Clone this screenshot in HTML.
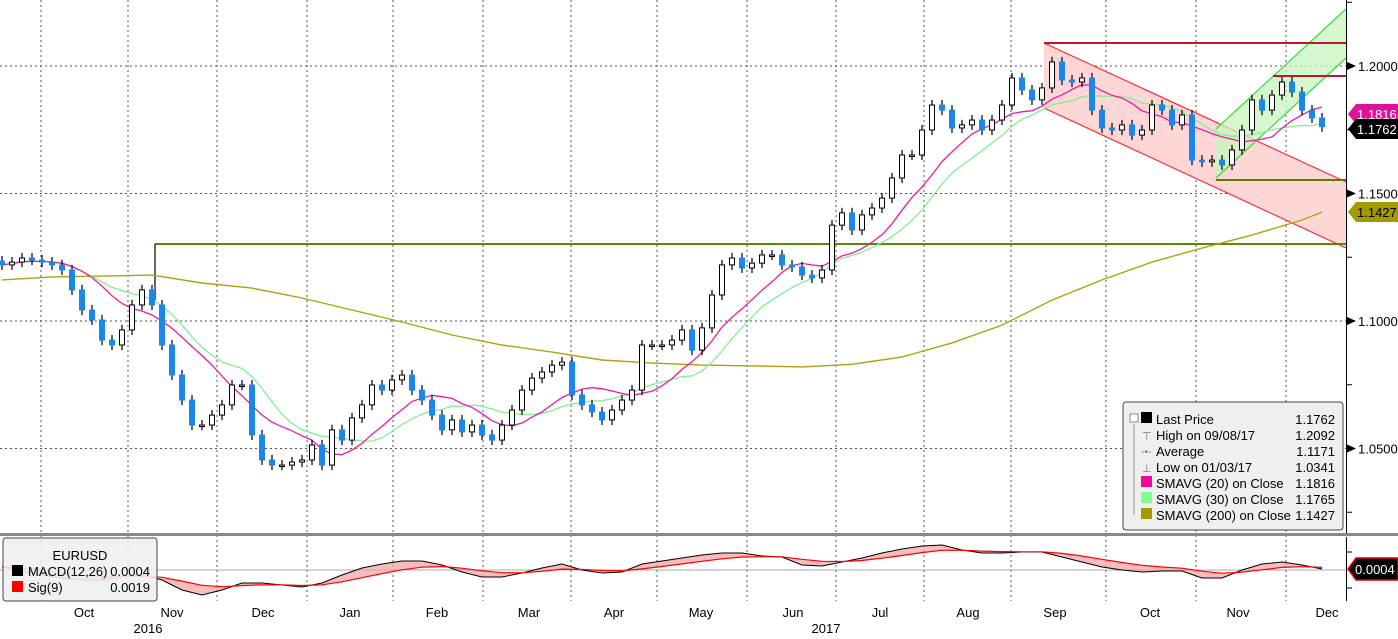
<!DOCTYPE html>
<html><head><meta charset="utf-8"><style>
html,body{margin:0;padding:0;background:#fff;}
svg{display:block;font-family:"Liberation Sans",sans-serif;}
</style></head><body>
<svg id="chart" width="1398" height="639" viewBox="0 0 1398 639" xmlns="http://www.w3.org/2000/svg">
<rect x="0" y="0" width="1398" height="639" fill="#fff"/>
<g id="grid"></g>
<g id="overlays">
  <polygon points="1044,43 1346,182 1346,248 1044,108" fill="#ffd6d6"/>
  <line x1="1044" y1="43" x2="1346" y2="182" stroke="#ff2a2a" stroke-width="1.2"/>
  <line x1="1044" y1="108" x2="1346" y2="248" stroke="#ff2a2a" stroke-width="1.2"/>
  <polygon points="1216,129 1346,9 1346,58 1216,178" fill="#c8f5c0" fill-opacity="0.75"/>
  <line x1="1216" y1="129" x2="1346" y2="9" stroke="#33dd33" stroke-width="1.2"/>
  <line x1="1216" y1="178" x2="1346" y2="58" stroke="#33dd33" stroke-width="1.2"/>
  <line x1="1044" y1="43" x2="1346" y2="43" stroke="#c0162c" stroke-width="2"/>
  <line x1="1273" y1="76" x2="1346" y2="76" stroke="#c0162c" stroke-width="2"/>
  <line x1="1216" y1="180" x2="1346" y2="180" stroke="#5a7a00" stroke-width="2"/>
  <line x1="155" y1="244" x2="1346" y2="244" stroke="#5a8a00" stroke-width="2"/>
  <line x1="155" y1="244" x2="155" y2="300" stroke="#000" stroke-width="1.2"/>
</g>
<g id="mas"></g>
<g id="candles"></g>
<rect x="0" y="533" width="1398" height="3" fill="#888"/>
<g id="macd"></g>
<line x1="1346.5" y1="0" x2="1346.5" y2="533" stroke="#000"/>
<line x1="1346.5" y1="537" x2="1346.5" y2="601" stroke="#000"/>
<g id="axis"></g>
<g>
  <polygon points="1356,104 1398,104 1398,124 1356,124 1348,114" fill="#e0129a"/>
  <text x="1357" y="119" font-size="13" fill="#fff">1.1816</text>
  <polygon points="1356,119 1398,119 1398,139 1356,139 1348,129" fill="#000"/>
  <text x="1357" y="134" font-size="13" fill="#fff">1.1762</text>
  <polygon points="1356,202 1398,202 1398,222 1356,222 1348,212" fill="#a39a00"/>
  <text x="1357" y="217" font-size="13" fill="#000">1.1427</text>
  <polygon points="1356,558 1398,558 1398,580 1356,580 1348,569" fill="#000" stroke="#e00" stroke-width="1.5"/>
  <text x="1355" y="574" font-size="13" fill="#fff">0.0004</text>
</g>
<g font-size="13">
  <rect x="1123" y="402" width="220" height="128" rx="3" fill="#efefef" stroke="#444"/>
  <line x1="1134" y1="424" x2="1134" y2="515" stroke="#999"/>
  <rect x="1130" y="414" width="8" height="8" fill="#fff" stroke="#888"/>
  <rect x="1141" y="412" width="11" height="11" fill="#000"/>
  <text x="1156" y="424">Last Price</text><text x="1335" y="424" text-anchor="end">1.1762</text>
  <text x="1156" y="440">High on 09/08/17</text><text x="1335" y="440" text-anchor="end">1.2092</text>
  <text x="1142" y="440" font-size="11" fill="#777">⊤</text>
  <text x="1156" y="456">Average</text><text x="1335" y="456" text-anchor="end">1.1171</text>
  <text x="1141" y="455" font-size="10" fill="#777">-•-</text>
  <text x="1156" y="472">Low on 01/03/17</text><text x="1335" y="472" text-anchor="end">1.0341</text>
  <text x="1142" y="472" font-size="11" fill="#777">⊥</text>
  <rect x="1141" y="476" width="11" height="11" fill="#ee0a9a"/>
  <text x="1156" y="488">SMAVG (20) on Close</text><text x="1335" y="488" text-anchor="end">1.1816</text>
  <rect x="1141" y="492" width="11" height="11" fill="#80ff90"/>
  <text x="1156" y="504">SMAVG (30) on Close</text><text x="1335" y="504" text-anchor="end">1.1765</text>
  <rect x="1141" y="508" width="11" height="11" fill="#a39a00"/>
  <text x="1156" y="520">SMAVG (200) on Close</text><text x="1335" y="520" text-anchor="end">1.1427</text>
</g>
<g font-size="13">
  <rect x="3" y="538" width="154" height="63" rx="3" fill="#efefef" fill-opacity="0.9" stroke="#444"/>
  <text x="80" y="560" text-anchor="middle">EURUSD</text>
  <rect x="12" y="565" width="11" height="11" fill="#000"/>
  <text x="28" y="576">MACD(12,26)</text><text x="150" y="576" text-anchor="end">0.0004</text>
  <rect x="12" y="581" width="11" height="11" fill="#f00"/>
  <text x="28" y="592">Sig(9)</text><text x="150" y="592" text-anchor="end">0.0019</text>
</g>
</svg>
<script>
const closes = [1.1220,1.1231,1.1247,1.1239,1.1231,1.1220,1.1200,1.1122,1.1043,1.1004,
1.0925,1.0906,1.0965,1.1063,1.1122,1.1063,1.0906,1.0788,1.0690,1.0592,
1.0592,1.0631,1.0671,1.0749,1.0749,1.0553,1.0455,1.0435,1.0435,1.0447,
1.0455,1.0514,1.0435,1.0573,1.0533,1.0620,1.0671,1.0749,1.0729,1.0769,
1.0788,1.0729,1.0690,1.0631,1.0573,1.0612,1.0565,1.0592,1.0553,1.0533,
1.0592,1.0651,1.0729,1.0776,1.0800,1.0827,1.0839,1.0710,1.0671,1.0643,
1.0612,1.0651,1.0690,1.0729,1.0906,1.0906,1.0906,1.0925,1.0965,1.0886,
1.0973,1.1102,1.1220,1.1247,1.1208,1.1227,1.1259,1.1259,1.1220,1.1212,
1.1180,1.1169,1.1200,1.1376,1.1424,1.1357,1.1416,1.1443,1.1482,1.1561,
1.1651,1.1651,1.1749,1.1847,1.1827,1.1757,1.1769,1.1788,1.1749,1.1788,
1.1847,1.1953,1.1906,1.1867,1.1914,1.2016,1.1945,1.1937,1.1953,1.1827,
1.1757,1.1749,1.1769,1.1729,1.1749,1.1847,1.1827,1.1769,1.1808,1.1631,
1.1624,1.1631,1.1612,1.1671,1.1749,1.1867,1.1827,1.1886,1.1937,1.1898,
1.1827,1.1796,1.1762];
const firstOpen = 1.1235;
const sma200 = [1.1161,1.1173,1.1176,1.1180,1.1149,1.1129,1.1090,1.1043,1.0996,1.0945,1.0906,1.0878,1.0847,1.0835,1.0827,1.0824,1.0820,1.0830,1.0859,1.0914,1.0984,1.1082,1.1161,1.1231,1.1286,1.1337,1.1396,1.1427];
const macdVals = [0.0015,-0.0005,-0.0025,-0.004,-0.005,-0.005,-0.0035,-0.0025,-0.005,-0.01,-0.0125,-0.01,-0.0065,-0.0065,-0.0075,-0.0085,-0.0065,-0.0025,0.001,0.003,0.0045,0.0045,0.0025,-0.001,-0.0035,-0.0035,-0.0015,0.001,0.003,0,-0.0015,-0.001,0.003,0.0045,0.006,0.0075,0.0085,0.0085,0.007,0.0065,0.0025,0.002,0.004,0.006,0.0085,0.0105,0.012,0.0125,0.01,0.0085,0.0085,0.009,0.009,0.0065,0.004,0.0015,0,-0.001,-0.0005,-0.0005,-0.004,-0.004,0,0.003,0.004,0.0025,0.0005];
const priceTicks = [1.20,1.15,1.10,1.05];
const priceTickLabels = ["1.2000","1.1500","1.1000","1.0500"];
const monthLabels = ["Oct","Nov","Dec","Jan","Feb","Mar","Apr","May","Jun","Jul","Aug","Sep","Oct","Nov","Dec"];
const monthLabelIdx = [8.2,17,26.1,34.8,43.5,52.7,61.2,69.9,79.1,87.8,96.6,105.3,114.8,123.6,132.5];
const monthStartIdx = [3.9,12.6,21.5,30.5,39.1,48.1,56.9,65.5,74.5,83.4,92.2,100.9,110.4,119.4,128.4];
const yearLabels = ["2016","2017"];
const yearLabelIdx = [14.6,82.4];

const NS="http://www.w3.org/2000/svg";
const X = i => 2 + i*10;
const Y = p => 66 + (1.2 - p)*2550;
const MY = v => 570 - v/0.0005;
function mk(tag, attrs, parent){const e=document.createElementNS(NS,tag);for(const k in attrs)e.setAttribute(k,attrs[k]);parent.appendChild(e);return e;}
const grid=document.getElementById('grid'), cg=document.getElementById('candles'), mg=document.getElementById('mas'), ax=document.getElementById('axis'), md=document.getElementById('macd');

priceTicks.forEach((p,k)=>{
  const l=mk('line',{x1:0,y1:Y(p),x2:1346,y2:Y(p),stroke:'#555','stroke-dasharray':'2,3'},grid);
  
  
  const a=mk('polygon',{points:`1347,${Y(p)-4} 1356,${Y(p)} 1347,${Y(p)+4}`,fill:'#000'},ax);
  
  
  const t=mk('text',{x:1358,y:Y(p)+5,'font-size':13},ax);t.textContent=priceTickLabels[k];
  
  
});
for(let p=1.025;p<1.25;p+=0.025){const yy=Y(p);if(yy>2&&yy<530){mk('line',{x1:1346,y1:yy,x2:1352,y2:yy,stroke:'#000'},ax);}}
monthStartIdx.forEach(i=>{
  const l=mk('line',{x1:X(i),y1:0,x2:X(i),y2:601,stroke:'#555','stroke-dasharray':'2,3'},grid);
  
  
});
monthLabels.forEach((m,k)=>{
  const t=mk('text',{x:X(monthLabelIdx[k]),y:617,'font-size':13,'text-anchor':'middle'},ax);t.textContent=m;
  
  
});
yearLabels.forEach((m,k)=>{
  const t=mk('text',{x:X(yearLabelIdx[k]),y:633,'font-size':13,'text-anchor':'middle'},ax);t.textContent=m;
  
  
});

function sma(n){return closes.map((c,i)=>{const s=closes.slice(Math.max(0,i-n+1),i+1);return s.reduce((a,b)=>a+b,0)/s.length;});}
function pathFrom(vals, xf, yf){return vals.map((v,i)=>(i?'L':'M')+xf(i).toFixed(1)+','+yf(v).toFixed(1)).join('');}
const s200=mk('path',{d:pathFrom(sma200,j=>X(Math.min(j*5,132)),Y),fill:'none',stroke:'#b0a010','stroke-width':1.4},mg);


const s30=mk('path',{d:pathFrom(sma(13),X,Y),fill:'none',stroke:'#80f090','stroke-width':1.3},mg);


const s20=mk('path',{d:pathFrom(sma(9),X,Y),fill:'none',stroke:'#ee1aa0','stroke-width':1.3},mg);



closes.forEach((c,i)=>{
  const o = i? closes[i-1] : firstOpen;
  const hi=Math.max(o,c)+0.002, lo=Math.min(o,c)-0.002;
  const w=mk('line',{x1:X(i),y1:Y(hi),x2:X(i),y2:Y(lo),stroke:'#000','stroke-width':1.2},cg);
  
  
  const top=Y(Math.max(o,c)), h=Math.max(1.5,Math.abs(Y(o)-Y(c)));
  const down=c<o;
  const r=mk('rect',{x:X(i)-2.5,y:top,width:5,height:h,fill:down?'#1a86f0':'#fff',stroke:down?'#1a86f0':'#000','stroke-width':1},cg);
  
  
});

const sig=[];macdVals.forEach((v,i)=>sig.push(i?sig[i-1]+0.3*(v-sig[i-1]):v));
const MX=j=>X(Math.min(j*2,132));
mk('line',{x1:0,y1:570,x2:1346,y2:570,stroke:'#aaa'},md);
let poly=macdVals.map((v,j)=>MX(j)+','+MY(v)).join(' ')+' '+sig.map((v,j)=>MX(j)+','+MY(v)).reverse().join(' ');
const f=mk('polygon',{points:poly,fill:'#f4a0a0','fill-opacity':0.7},md);


const ml=mk('path',{d:pathFrom(macdVals,MX,MY),fill:'none',stroke:'#000','stroke-width':1},md);


const sl=mk('path',{d:pathFrom(sig,MX,MY),fill:'none',stroke:'#f00','stroke-width':1.2},md);


[552,588].forEach(yy=>mk('line',{x1:1346,y1:yy,x2:1352,y2:yy,stroke:'#000'},ax));
</script>
</body></html>
